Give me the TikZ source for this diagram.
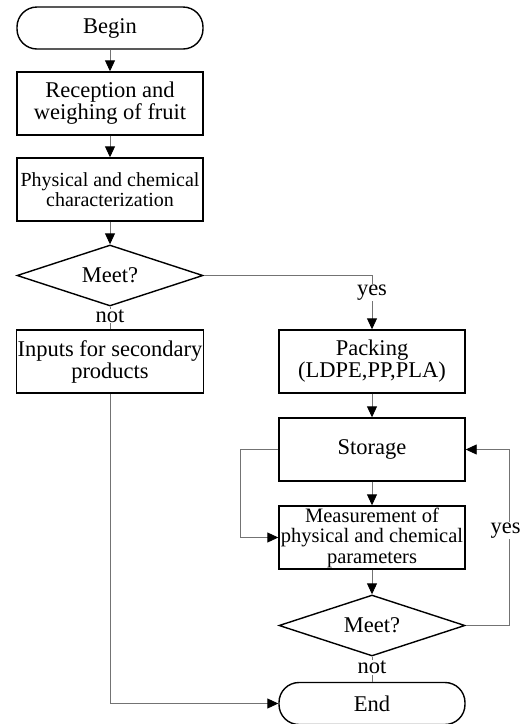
\documentclass[tikz,border=0pt]{standalone}
\usepackage{fontspec}
\setmainfont{Liberation Serif}
\usetikzlibrary{arrows.meta,shapes.geometric}

\begin{document}
\begin{tikzpicture}[->,>={Triangle[length=11pt,width=10pt,color=black]},x=1pt,y=1pt,
    node distance=86pt,
    font=\fontsize{22.5}{22}\selectfont,
    every edge/.style={draw,black!55,line width=0.9pt},
    box/.style={draw=black,line width=1.4pt,rectangle,align=center,
      minimum width=186pt,minimum height=63pt,inner sep=1pt},
    term/.style={draw=black,line width=1.4pt,rectangle,rounded corners=20pt,
      minimum width=186pt,minimum height=42pt},
    decision/.style={draw=black,line width=1.4pt,diamond,aspect=3,
      minimum width=186pt,minimum height=61pt,inner sep=1pt},
    lbl/.style={fill=white,text=black,inner sep=1pt}]
  \useasboundingbox (0,0) rectangle (522,-724);

  \node[term] (begin) at (110,-28) {Begin};
  \node[box] (recep) [below of=begin,node distance=75.5pt] {Reception and\\weighing of fruit};
  \node[box,font=\fontsize{20}{20}\selectfont] (charac) [below of=recep] {Physical and chemical\\characterization};
  \node[decision] (meet1) [below of=charac] {Meet?};
  \node[box] (inputs) [below of=meet1] {Inputs for secondary\\products};
  \node[box] (packing) [right of=inputs,node distance=262pt] {Packing\\(LDPE,PP,PLA)};
  \node[box] (storage) [below of=packing,node distance=88pt] {Storage};
  \node[box,font=\fontsize{20.5}{20.5}\selectfont] (measure) [below of=storage,node distance=88pt] {Measurement of\\physical and chemical\\parameters};
  \node[decision] (meet2) [below of=measure,node distance=88pt] {Meet?};
  \node[term] (end) [below of=meet2,node distance=78pt] {End};

  \path (begin) edge (recep)
  (recep) edge (charac)
  (charac) edge (meet1)
  (packing) edge (storage)
  (storage) edge (measure)
  (measure) edge (meet2);

  \draw[black!55,line width=0.9pt,-] (meet1) -- node[lbl,yshift=2pt]{not} (inputs);
  \draw[black!55,line width=0.9pt,-] (meet2) -- node[lbl,yshift=2pt]{not} (end);
  \draw[black!55,line width=0.9pt] (meet1.east) -| node[lbl,pos=0.66]{yes} (packing.north);
  \draw[black!55,line width=0.9pt] (storage.west) -- ++(-38,0) |- (measure.west);
  \draw[black!55,line width=0.9pt] (meet2.east) -- ++(44,0) |- node[lbl,pos=0.27,xshift=-4pt]{yes} (storage.east);
  \draw[black!55,line width=0.9pt] (inputs.south) |- (end.west);
\end{tikzpicture}
\end{document}
